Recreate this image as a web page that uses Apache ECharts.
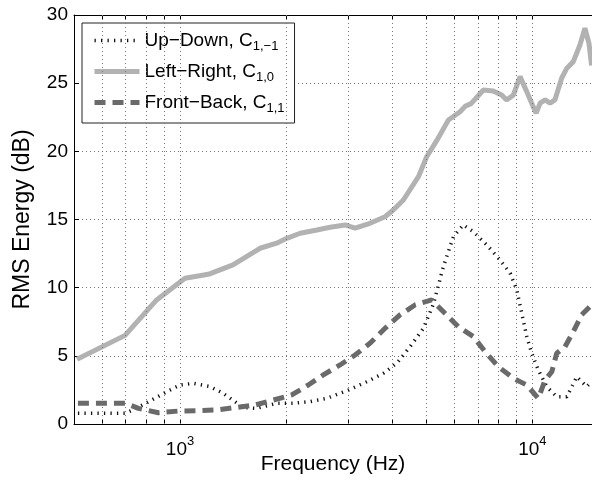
<!DOCTYPE html>
<html><head><meta charset="utf-8">
<script src="https://cdn.jsdelivr.net/npm/echarts@6/dist/echarts.min.js"></script>
<style>html,body{margin:0;padding:0;background:#fff}#c{width:592px;height:483px}</style>
</head><body><div id="c"></div>
<script>
const seriesNames = ['Up−Down', 'Left−Right', 'Front−Back'];
const subscripts = ['1,−1', '1,0', '1,1'];

const freqUD = [513, 698, 730, 804, 917, 1000, 1091, 1217, 1327, 1432, 1513, 1650, 1880, 2098, 2339, 2608, 3005, 3388, 3777, 4121, 4497, 4907, 5240, 5590, 5970, 6370, 6800, 7430, 8097, 8650, 9035, 9333, 9641, 9960, 10400, 10990, 11730, 12530, 13370, 14260, 14730];
const rmsUD = [0.78, 0.78, 1.0, 1.56, 2.37, 2.86, 2.98, 2.74, 2.25, 1.64, 1.2, 1.15, 1.52, 1.52, 1.64, 1.88, 2.49, 3.1, 3.72, 4.45, 5.67, 7.02, 8.8, 11.54, 13.74, 14.6, 14.1, 13.13, 12.03, 11.06, 9.83, 8.12, 6.41, 5.19, 3.96, 2.74, 2.0, 2.0, 3.47, 2.74, 3.1];

const freqLR = [510, 698, 858, 1033, 1203, 1413, 1686, 1880, 2009, 2193, 2445, 2667, 2941, 3139, 3460, 3818, 4029, 4305, 4750, 5013, 5356, 5779, 6237, 6444, 6700, 7262, 7747, 8184, 8453, 8837, 9228, 9641, 9960, 10254, 10520, 10870, 11230, 11590, 12110, 12530, 13070, 13650, 14100, 14260, 14480, 14640, 14730];
const rmsLR = [4.75, 6.5, 9.1, 10.69, 10.98, 11.67, 12.89, 13.26, 13.62, 13.99, 14.23, 14.43, 14.6, 14.36, 14.72, 15.2, 15.7, 16.43, 18.14, 19.6, 20.8, 22.3, 22.9, 23.3, 23.5, 24.5, 24.43, 24.14, 23.77, 24.14, 25.48, 24.38, 23.53, 22.8, 23.53, 23.77, 23.53, 23.77, 25.36, 26.1, 26.58, 27.8, 29.03, 29.15, 27.93, 28.05, 26.3];

const freqFB = [513, 698, 762, 868, 989, 1127, 1270, 1449, 1633, 1842, 2075, 2312, 2551, 2845, 3139, 3460, 3818, 4210, 4643, 5180, 5649, 6165, 6800, 7345, 8012, 8837, 9641, 10400, 10870, 11360, 11730, 12380, 13070, 13800, 14560];
const rmsFB = [1.52, 1.52, 1.15, 0.83, 0.95, 0.98, 1.03, 1.22, 1.39, 1.76, 2.13, 2.86, 3.6, 4.33, 5.06, 5.92, 7.02, 8.0, 8.73, 9.1, 8.12, 7.14, 6.41, 5.3, 4.2, 3.35, 2.86, 1.88, 3.23, 3.84, 5.19, 5.67, 6.77, 8.0, 8.6];

const xMin = 500, xMax = 14770;
const yMin = 0, yMax = 30, yStep = 5;
const xLabelValues = [1000, 10000];
const xGridValues = [600, 700, 800, 900, 1000, 2000, 3000, 4000, 5000, 6000, 7000, 8000, 9000, 10000];

const FONT = "'Liberation Sans', Arial, sans-serif";
const pairs = (xs, ys) => xs.map((x, i) => [x, ys[i]]);

const chart = echarts.init(document.getElementById('c'), null, {renderer: 'canvas'});
const xCommon = {
  type: 'log', logBase: 10, min: xMin, max: xMax,
  axisLine: {show: true, lineStyle: {color: '#000', width: 1}},
  splitLine: {show: false}, minorTick: {show: false}, minorSplitLine: {show: false}
};
chart.setOption({
  animation: false,
  backgroundColor: '#fff',
  textStyle: {fontFamily: FONT},
  grid: {left: 74, top: 15, right: 0, bottom: 59, containLabel: false, outerBoundsMode: 'none'},
  legend: {
    data: seriesNames,
    orient: 'vertical', left: 82, top: 23,
    padding: [8, 10, 8, 10], itemGap: 9, itemWidth: 45, itemHeight: 14,
    borderColor: '#222', borderWidth: 1, backgroundColor: '#fff',
    itemStyle: {opacity: 0, color: 'rgba(0,0,0,0)', borderWidth: 0},
    lineStyle: {width: 'inherit', type: 'inherit', color: 'inherit'},
    textStyle: {
      fontFamily: FONT, fontSize: 19, color: '#000',
      rich: {
        t: {fontFamily: FONT, fontSize: 19, color: '#000'},
        s: {fontFamily: FONT, fontSize: 13, color: '#000', padding: [12, 0, 0, 0]}
      }
    },
    formatter: function (name) {
      const i = seriesNames.indexOf(name);
      return '{t|' + name + ', C}{s|' + subscripts[i] + '}';
    }
  },
  xAxis: [
    Object.assign({}, xCommon, {
      position: 'bottom',
      name: 'Frequency (Hz)', nameLocation: 'middle', nameGap: 30, nameMoveOverlap: false,
      nameTextStyle: {fontFamily: FONT, fontSize: 21, color: '#000', verticalAlign: 'top'},
      axisTick: {show: true, inside: true, length: 4, customValues: xGridValues, lineStyle: {color: '#000'}},
      axisLabel: {
        show: true, customValues: xLabelValues, margin: 8, color: '#000',
        formatter: function (v) { return '{b|10}{e|' + Math.round(Math.log10(v)) + '}'; },
        rich: {
          b: {fontFamily: FONT, fontSize: 19, color: '#000', padding: [8, 0, 0, 0]},
          e: {fontFamily: FONT, fontSize: 13, color: '#000', padding: [0, 0, 8, 0]}
        }
      }
    }),
    Object.assign({}, xCommon, {
      position: 'top',
      axisTick: {show: true, inside: true, length: 4, customValues: xGridValues, lineStyle: {color: '#000'}},
      axisLabel: {show: false}
    })
  ],
  yAxis: {
    type: 'value', min: yMin, max: yMax, interval: yStep,
    name: 'RMS Energy (dB)', nameLocation: 'middle', nameGap: 40, nameRotate: 90,
    nameTextStyle: {fontFamily: FONT, fontSize: 23, color: '#000'},
    axisLine: {show: true, lineStyle: {color: '#000', width: 1}},
    axisTick: {show: true, inside: true, length: 5, lineStyle: {color: '#000'}},
    axisLabel: {fontFamily: FONT, fontSize: 19, color: '#000', margin: 6},
    splitLine: {show: true, lineStyle: {color: '#777', width: 1, type: [1, 3]}}
  },
  series: [
    {
      type: 'line', name: 'grid', data: [], silent: true, z: 1,
      markLine: {
        silent: true, symbol: ['none', 'none'], label: {show: false},
        lineStyle: {color: '#777', width: 1, type: [1, 3]},
        emphasis: {disabled: true},
        data: xGridValues.map(v => ({xAxis: v}))
      }
    },
    {
      type: 'line', name: seriesNames[0], data: pairs(freqUD, rmsUD), showSymbol: false, symbol: 'none', z: 3,
      lineStyle: {color: '#111', width: 3.5, type: [1.3, 5.2], cap: 'butt'}, itemStyle: {color: '#111'}
    },
    {
      type: 'line', name: seriesNames[1], data: pairs(freqLR, rmsLR), showSymbol: false, symbol: 'none', z: 3,
      lineStyle: {color: '#b2b2b2', width: 5}, itemStyle: {color: '#b2b2b2'}
    },
    {
      type: 'line', name: seriesNames[2], data: pairs(freqFB, rmsFB), showSymbol: false, symbol: 'none', z: 3,
      lineStyle: {color: '#6a6a6a', width: 5, type: [11, 7], cap: 'butt'}, itemStyle: {color: '#6a6a6a'}
    }
  ]
});
</script>
</body></html>
